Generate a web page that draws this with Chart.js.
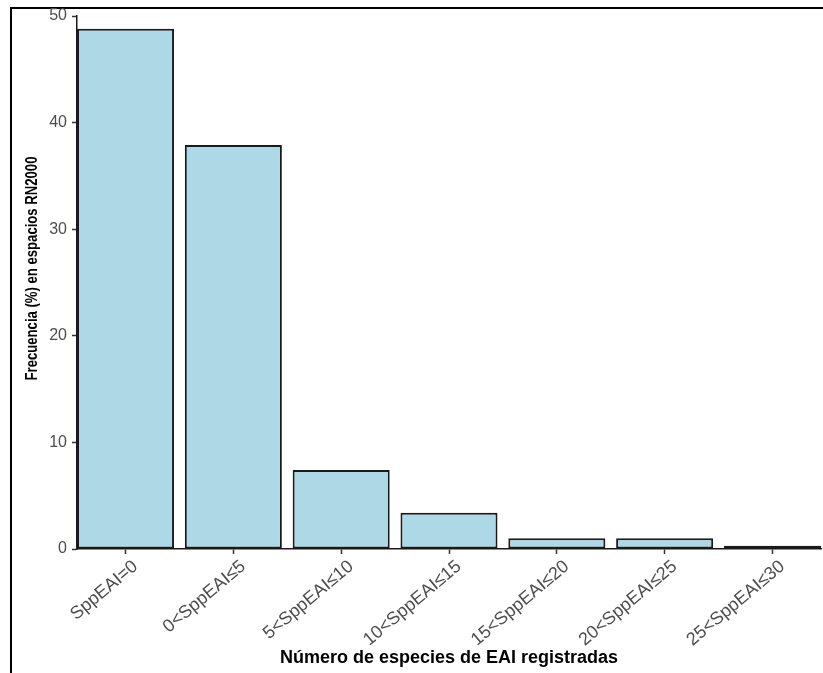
<!DOCTYPE html>
<html>
<head>
<meta charset="utf-8">
<script src="https://cdn.jsdelivr.net/npm/chart.js@4/dist/chart.umd.min.js"></script>
<style>
  html, body { margin: 0; padding: 0; background: #fff; overflow: hidden; }
  #wrap { position: relative; width: 823px; height: 673px; overflow: hidden; }
  #frame { position: absolute; left: 10px; top: 7px; width: 900px; height: 700px;
           border-top: 2px solid #000; border-left: 2px solid #000; }
  canvas { position: absolute; left: 0; top: 0; }
</style>
</head>
<body>
<div id="wrap">
  <div id="frame"></div>
  <canvas id="c" width="823" height="673"></canvas>
</div>
<script>
const categories = ['SppEAI=0', '0<SppEAI≤5', '5<SppEAI≤10', '10<SppEAI≤15', '15<SppEAI≤20', '20<SppEAI≤25', '25<SppEAI≤30']
const frecuencia = [48.8, 37.9, 7.4, 3.4, 1.0, 1.0, 0.3]
const yTicks = [0, 10, 20, 30, 40, 50]
const yTitle = 'Frecuencia (%) en espacios RN2000'

Chart.defaults.font.family = "'Liberation Sans', Arial, sans-serif"

// y title in a narrow bold face, like the original
const narrowYTitle = {
  id: 'narrowYTitle',
  afterDraw(chart) {
    const { ctx, chartArea } = chart
    ctx.save()
    ctx.translate(33, (chartArea.top + chartArea.bottom) / 2 - 14)
    ctx.rotate(-Math.PI / 2)
    ctx.scale(0.82, 1)
    ctx.font = "bold 16px 'Liberation Sans', Arial, sans-serif"
    ctx.fillStyle = '#000'
    ctx.textAlign = 'center'
    ctx.textBaseline = 'middle'
    ctx.fillText(yTitle, 0, 0)
    ctx.restore()
  },
}

new Chart(document.getElementById('c'), {
  type: 'bar',
  data: {
    datasets: [{
      data: frecuencia.map((v, i) => ({ x: i, y: v })),
      backgroundColor: '#add8e6',
      borderColor: '#1a1a1a',
      borderWidth: 2,
      borderSkipped: false,
      barPercentage: 1,
      categoryPercentage: 0.9,
    }],
  },
  options: {
    responsive: false,
    animation: false,
    devicePixelRatio: 1,
    layout: { padding: { top: 16, right: 2, bottom: 0, left: 0 } },
    plugins: { legend: { display: false }, tooltip: { enabled: false } },
    scales: {
      x: {
        type: 'linear',
        min: -0.45,
        max: 6.45,
        offset: false,
        afterBuildTicks: (s) => { s.ticks = categories.map((_, i) => ({ value: i })) },
        afterFit: (s) => { s.height = 124 },
        grid: { drawOnChartArea: false, offset: false, tickLength: 5, tickColor: '#333', tickWidth: 1.5 },
        border: { color: '#1a1a1a', width: 1.5 },
        ticks: {
          autoSkip: false,
          minRotation: 40,
          maxRotation: 40,
          labelOffset: 10,
          padding: 2,
          color: '#4d4d4d',
          font: { size: 18 },
          callback: (v) => categories[v],
        },
        title: {
          display: true,
          text: 'Número de especies de EAI registradas',
          color: '#000',
          font: { size: 18, weight: 'bold' },
          padding: { top: 0, bottom: 4 },
        },
      },
      y: {
        min: 0,
        max: 50,
        afterBuildTicks: (s) => { s.ticks = yTicks.map((v) => ({ value: v })) },
        afterFit: (s) => { s.width = 77 },
        grid: { drawOnChartArea: false, tickLength: 5, tickColor: '#333', tickWidth: 1.5 },
        border: { color: '#1a1a1a', width: 1.5 },
        ticks: { padding: 5, color: '#4d4d4d', font: { size: 16 } },
        title: { display: false },
      },
    },
  },
  plugins: [narrowYTitle],
})
</script>
</body>
</html>
